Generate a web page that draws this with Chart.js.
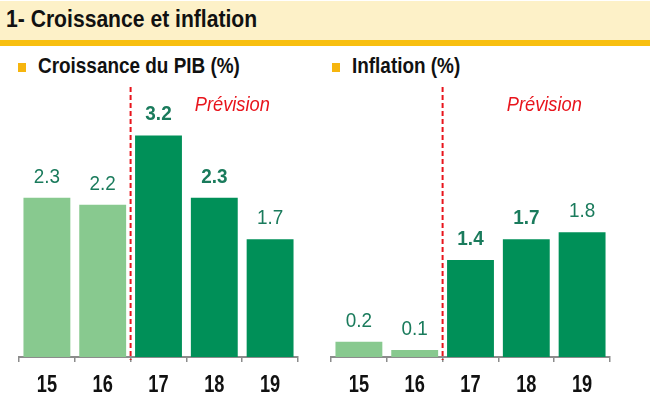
<!DOCTYPE html>
<html>
<head>
<meta charset="utf-8">
<script src="https://cdn.jsdelivr.net/npm/chart.js@4.4.0/dist/chart.umd.min.js"></script>
<style>
  body { margin: 0; width: 650px; height: 398px; background: #fff; overflow: hidden; position: relative;
         font-family: "Liberation Sans", Arial, sans-serif; }
  #bandeau { position: absolute; left: 0; top: 1px; width: 650px; height: 39px; background: #fdf1c8; }
  #filet { position: absolute; left: 0; top: 40px; width: 650px; height: 6px; background: #f8bf10; }
  .etroit { position: absolute; white-space: nowrap; font-weight: bold; color: #111; transform-origin: 0 0; }
  #titre { left: 6px; top: 5px; font-size: 24px; transform: scaleX(0.88); }
  .sous { top: 53px; font-size: 22px; transform: scaleX(0.86); }
  .carre { position: absolute; width: 8px; height: 9px; background: #f6b50e; top: 63px; }
  canvas { position: absolute; }
</style>
</head>
<body>
<div id="bandeau"></div>
<div id="filet"></div>
<div id="titre" class="etroit">1- Croissance et inflation</div>
<div class="carre" style="left:18px"></div>
<div class="sous etroit" style="left:38px">Croissance du PIB (%)</div>
<div class="carre" style="left:332px"></div>
<div class="sous etroit" style="left:352px">Inflation (%)</div>
<div style="position:absolute;left:0;top:80px;width:320px;height:318px"><canvas id="graphePib"></canvas></div>
<div style="position:absolute;left:312px;top:80px;width:338px;height:318px"><canvas id="grapheInflation"></canvas></div>
<script>
// Données
const annees = ['15', '16', '17', '18', '19'];
const croissancePib = [2.3, 2.2, 3.2, 2.3, 1.7];
const inflation = [0.22, 0.1, 1.4, 1.7, 1.8];
const inflationEtiquettes = ['0.2', '0.1', '1.4', '1.7', '1.8'];
const etiquettesGras = [false, false, true, true, false];
const debutPrevision = 2; // index de la première année prévue

const VERT_CLAIR = '#88c98f';
const VERT_FONCE = '#009058';
const ROUGE = '#e8141c';
const POLICE = '"Liberation Sans", Arial, sans-serif';

// texte compressé horizontalement (pas de police "narrow" disponible)
function texteEtroit(ctx, texte, x, y, echelle) {
    ctx.save();
    ctx.translate(x, y);
    ctx.scale(echelle, 1);
    ctx.fillText(texte, 0, 0);
    ctx.restore();
}

const pluginPrevision = {
    id: 'prevision',
    afterDatasetsDraw(chart, args, opts) {
        const ctx = chart.ctx;
        const x = chart.scales.x;
        const meta = chart.getDatasetMeta(0);
        ctx.save();
        ctx.textAlign = 'center';
        ctx.textBaseline = 'alphabetic';
        // étiquettes de valeur au-dessus des barres
        ctx.fillStyle = '#1a7b5c';
        meta.data.forEach((barre, i) => {
            ctx.font = (etiquettesGras[i] ? 'bold ' : '') + '21px ' + POLICE;
            texteEtroit(ctx, opts.etiquettes[i], barre.x, barre.y - 15, 0.9);
        });
        // années sous l'axe
        ctx.fillStyle = '#111';
        ctx.font = 'bold 24px ' + POLICE;
        annees.forEach((a, i) => {
            texteEtroit(ctx, a, x.getPixelForValue(i), chart.chartArea.bottom + 35, 0.76);
        });
        // ligne pointillée de séparation
        const xSep = (x.getPixelForValue(debutPrevision - 1) + x.getPixelForValue(debutPrevision)) / 2;
        ctx.strokeStyle = ROUGE;
        ctx.lineWidth = 2;
        ctx.setLineDash([5, 3]);
        ctx.beginPath();
        ctx.moveTo(xSep, 7);
        ctx.lineTo(xSep, chart.chartArea.bottom + 3);
        ctx.stroke();
        ctx.setLineDash([]);
        // texte "Prévision"
        ctx.fillStyle = ROUGE;
        ctx.font = 'italic 21px ' + POLICE;
        texteEtroit(ctx, 'Prévision', x.getPixelForValue(3) + 18, 31, 0.87);
        ctx.restore();
    }
};

function creerGraphe(canvasId, valeurs, etiquettes, padGauche, padDroite) {
    return new Chart(document.getElementById(canvasId), {
        type: 'bar',
        data: {
            labels: annees,
            datasets: [{
                data: valeurs,
                backgroundColor: valeurs.map((v, i) => i < debutPrevision ? VERT_CLAIR : VERT_FONCE),
                barPercentage: 0.84,
                categoryPercentage: 1.0
            }]
        },
        options: {
            responsive: true,
            maintainAspectRatio: false,
            animation: false,
            layout: { padding: { left: padGauche, right: padDroite, top: 0, bottom: 0 } },
            plugins: {
                legend: { display: false },
                tooltip: { enabled: false },
                prevision: { etiquettes: etiquettes }
            },
            scales: {
                y: { display: false, min: 0, max: 4 },
                x: {
                    afterFit: (s) => { s.height = 41; },
                    grid: { display: true, drawOnChartArea: false, offset: true, tickLength: 5, color: '#8c8c8c', lineWidth: 1.5 },
                    border: { display: true, color: '#8c8c8c', width: 2 },
                    ticks: { display: false }
                }
            }
        },
        plugins: [pluginPrevision]
    });
}

creerGraphe('graphePib', croissancePib, croissancePib.map(v => v.toFixed(1)), 19, 22);
creerGraphe('grapheInflation', inflation, inflationEtiquettes, 19, 40);
</script>
</body>
</html>
